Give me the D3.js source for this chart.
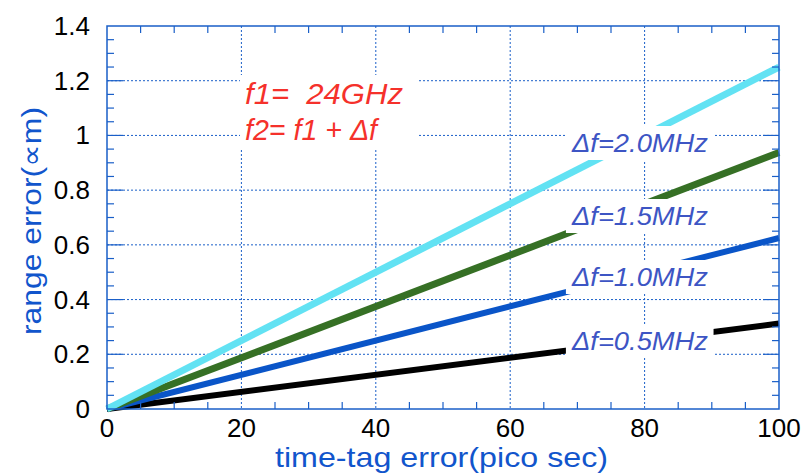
<!DOCTYPE html>
<meta charset="utf-8">
<style>
body { margin: 0; background: #fff; }
text { font-family: "Liberation Sans", Arial, Helvetica, sans-serif; }
.grid line { stroke: #1a5fc8; stroke-width: 1; stroke-dasharray: 2,2; }
</style>
<svg width="807" height="474"></svg>
<script src="https://cdn.jsdelivr.net/npm/d3@7"></script>
<script>
// data
var timeTag = [0, 100];
var err05 = [0, 0.3125];
var err10 = [0, 0.625];
var err15 = [0, 0.9375];
var err20 = [0, 1.25];
var xTicks = [0, 20, 40, 60, 80, 100];
var yTicks = [0, 0.2, 0.4, 0.6, 0.8, 1, 1.2, 1.4];
var yTickLabels = ["0", "0.2", "0.4", "0.6", "0.8", "1", "1.2", "1.4"];
var seriesLabels = ["\u0394f=0.5MHz", "\u0394f=1.0MHz", "\u0394f=1.5MHz", "\u0394f=2.0MHz"];

var svg = d3.select("svg");
var mLeft = 107, mRight = 779, mTop = 26, mBottom = 409;
var x = d3.scaleLinear().domain([0, 100]).range([mLeft, mRight]);
var y = d3.scaleLinear().domain([0, 1.4]).range([mBottom, mTop]);
var blue = "#1a5fc8";

// grid lines
var grid = svg.append("g").attr("class", "grid");
grid.selectAll(".gx").data(xTicks.slice(1, -1)).enter().append("line")
    .attr("x1", d => x(d)).attr("x2", d => x(d))
    .attr("y1", mTop).attr("y2", mBottom);
grid.selectAll(".gy").data(yTicks.slice(1, -1)).enter().append("line")
    .attr("y1", d => y(d)).attr("y2", d => y(d))
    .attr("x1", mLeft).attr("x2", mRight);

// the lines
var line = d3.line().x(d => x(d[0])).y(d => y(d[1]));
var series = [
  {vals: err05, color: "#000000", w: 6},
  {vals: err10, color: "#0a55c8", w: 6},
  {vals: err15, color: "#367025", w: 7},
  {vals: err20, color: "#62e2f3", w: 7}
];
svg.append("g").selectAll("path").data(series).enter().append("path")
    .attr("fill", "none")
    .attr("stroke", d => d.color)
    .attr("stroke-width", d => d.w)
    .attr("d", d => line(timeTag.map((t, i) => [t, d.vals[i]])));

// frame and ticks
svg.append("rect").attr("x", mLeft).attr("y", mTop)
    .attr("width", mRight - mLeft).attr("height", mBottom - mTop)
    .attr("fill", "none").attr("stroke", blue).attr("stroke-width", 1.5);

var ticks = svg.append("g").attr("stroke", blue).attr("stroke-width", 1.2);
d3.range(5, 100, 5).forEach(function(v) {
  if (v % 20 === 0) return;
  ticks.append("line").attr("x1", x(v)).attr("x2", x(v)).attr("y1", mTop).attr("y2", mTop + 7);
  ticks.append("line").attr("x1", x(v)).attr("x2", x(v)).attr("y1", mBottom).attr("y2", mBottom - 7);
});
d3.range(1, 28).forEach(function(i) {
  var v = i * 0.05, len = i % 4 === 0 ? 16 : 7;
  ticks.append("line").attr("y1", y(v)).attr("y2", y(v)).attr("x1", mLeft).attr("x2", mLeft + len);
  ticks.append("line").attr("y1", y(v)).attr("y2", y(v)).attr("x1", mRight).attr("x2", mRight - len);
});

// tick labels
svg.append("g").selectAll("text").data(xTicks).enter().append("text")
    .attr("x", d => x(d)).attr("y", 437)
    .attr("text-anchor", "middle").attr("font-size", 26).attr("fill", "#000")
    .text(d => d);
svg.append("g").selectAll("text").data(yTicks).enter().append("text")
    .attr("x", 90).attr("y", d => y(d) + 9)
    .attr("text-anchor", "end").attr("font-size", 26).attr("fill", "#000")
    .text((d, i) => yTickLabels[i]);

// axis titles
svg.append("text").attr("x", 275).attr("y", 467)
    .attr("font-size", 28).attr("fill", "#1155cc")
    .attr("textLength", 333).attr("lengthAdjust", "spacingAndGlyphs")
    .text("time-tag error(pico sec)");
svg.append("text").attr("transform", "translate(41,335) rotate(-90)")
    .attr("font-size", 28).attr("fill", "#1155cc")
    .attr("textLength", 228).attr("lengthAdjust", "spacingAndGlyphs")
    .text("range error(\u221dm)");

// labels with white boxes
function boxedText(txt, lx, ly, size, len, color, padx, pady) {
  var g = svg.append("g");
  var rect = g.append("rect").attr("fill", "#fff");
  var t = g.append("text").attr("x", lx).attr("y", ly)
      .attr("font-size", size).attr("font-style", "italic").attr("fill", color)
      .attr("textLength", len).attr("lengthAdjust", "spacingAndGlyphs")
      .text(txt);
  var bb = t.node().getBBox();
  rect.attr("x", bb.x - padx).attr("y", bb.y - pady)
      .attr("width", bb.width + 2 * padx).attr("height", bb.height + 2 * pady);
  return g;
}
var labelY = [341, 277, 216, 143];
seriesLabels.forEach(function(s, i) {
  boxedText(s, 572, labelY[i] + 9, 25, 136, "#3d55c4", 5, 3);
});

var red = svg.append("g");
red.append("rect").attr("fill", "#fff")
    .attr("x", 240).attr("y", 75).attr("width", 178).attr("height", 73);
red.append("text").attr("x", 245).attr("y", 104)
    .attr("font-size", 30).attr("font-style", "italic").attr("fill", "#f5312b")
    .attr("textLength", 158).attr("lengthAdjust", "spacingAndGlyphs")
    .style("white-space", "pre")
    .text("f1=  24GHz");
red.append("text").attr("x", 245).attr("y", 140)
    .attr("font-size", 30).attr("font-style", "italic").attr("fill", "#f5312b")
    .attr("textLength", 132).attr("lengthAdjust", "spacingAndGlyphs")
    .text("f2= f1 + \u0394f");
</script>
